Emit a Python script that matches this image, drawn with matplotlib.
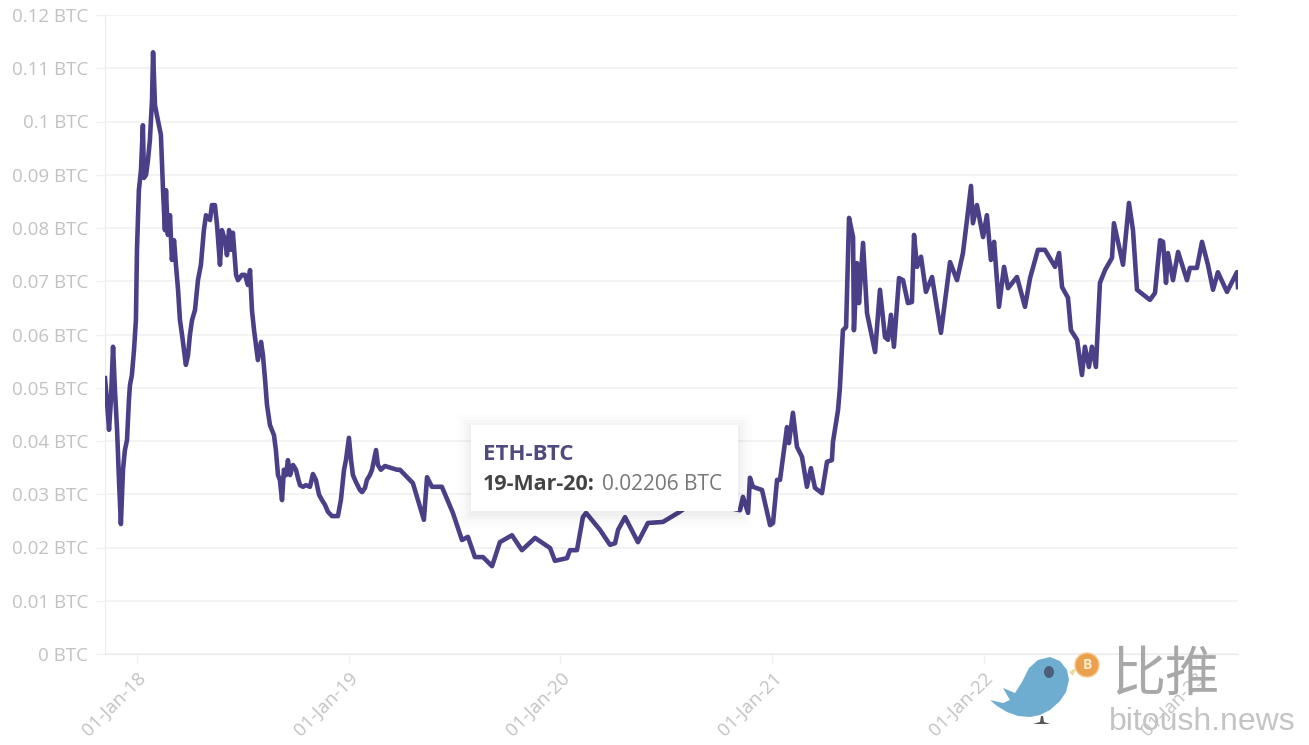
import matplotlib
matplotlib.use('Agg')
import matplotlib.pyplot as plt
from matplotlib.patches import Ellipse, Polygon, Rectangle

# years after 01-Jan-18
years = [-0.151, -0.142, -0.132, -0.123, -0.113, -0.104, -0.094, -0.085, -0.076, -0.066,
         -0.057, -0.047, -0.038, -0.033, -0.024, -0.014, -0.005, 0.0, 0.009, 0.019,
         0.028, 0.033, 0.043, 0.052, 0.061, 0.071, 0.076, 0.085, 0.094, 0.104,
         0.113, 0.123, 0.132, 0.137, 0.146, 0.156, 0.165, 0.175, 0.184, 0.194,
         0.203, 0.213, 0.222, 0.231, 0.241, 0.25, 0.26, 0.274, 0.288, 0.302,
         0.316, 0.326, 0.345, 0.354, 0.368, 0.378, 0.392, 0.401, 0.416, 0.425,
         0.435, 0.444, 0.453, 0.468, 0.477, 0.496, 0.51, 0.524, 0.534, 0.543,
         0.553, 0.562, 0.571, 0.586, 0.595, 0.605, 0.614, 0.628, 0.647, 0.656,
         0.666, 0.675, 0.685, 0.694, 0.704, 0.713, 0.723, 0.737, 0.751, 0.76,
         0.77, 0.784, 0.798, 0.817, 0.831, 0.845, 0.86, 0.874, 0.888, 0.902,
         0.921, 0.949, 0.963, 0.978, 0.987, 1.001, 1.011, 1.02, 1.034, 1.053,
         1.063, 1.077, 1.086, 1.1, 1.11, 1.129, 1.138, 1.152, 1.171, 1.204,
         1.228, 1.242, 1.303, 1.355, 1.37, 1.393, 1.44, 1.492, 1.535, 1.563,
         1.596, 1.634, 1.677, 1.714, 1.771, 1.818, 1.88, 1.951, 1.974, 2.031,
         2.045, 2.078, 2.106, 2.121, 2.187, 2.234, 2.258, 2.272, 2.305, 2.366,
         2.413, 2.484, 2.555, 2.612, 2.683, 2.753, 2.801, 2.848, 2.862, 2.886,
         2.895, 2.909, 2.952, 2.99, 3.004, 3.023, 3.037, 3.07, 3.079, 3.098,
         3.117, 3.141, 3.164, 3.183, 3.202, 3.235, 3.259, 3.282, 3.287, 3.311,
         3.32, 3.334, 3.349, 3.363, 3.382, 3.386, 3.401, 3.41, 3.429, 3.448,
         3.486, 3.509, 3.533, 3.547, 3.561, 3.575, 3.599, 3.618, 3.641, 3.66,
         3.67, 3.684, 3.703, 3.726, 3.755, 3.797, 3.84, 3.873, 3.901, 3.92,
         3.939, 3.948, 3.967, 3.996, 4.014, 4.033, 4.048, 4.071, 4.095, 4.114,
         4.156, 4.194, 4.218, 4.255, 4.288, 4.336, 4.355, 4.369, 4.397, 4.411,
         4.44, 4.463, 4.477, 4.496, 4.51, 4.529, 4.548, 4.572, 4.605, 4.614,
         4.657, 4.685, 4.704, 4.723, 4.784, 4.808, 4.832, 4.846, 4.86, 4.869,
         4.893, 4.917, 4.959, 4.973, 5.006, 5.03, 5.058, 5.082, 5.105, 5.148,
         5.195, 5.2]

eth_btc = [0.0518, 0.0477, 0.0421, 0.0477, 0.0577, 0.0496, 0.0421, 0.0327, 0.0244, 0.0346,
           0.0383, 0.0402, 0.0477, 0.0505, 0.0524, 0.0571, 0.0627, 0.0759, 0.0871, 0.0909,
           0.0993, 0.0894, 0.09, 0.0928, 0.0965, 0.104, 0.113, 0.1031, 0.1012, 0.0993,
           0.0975, 0.0871, 0.0796, 0.0871, 0.0787, 0.0824, 0.074, 0.0777, 0.0731, 0.0684,
           0.0627, 0.0599, 0.0571, 0.0543, 0.0561, 0.0599, 0.0627, 0.0646, 0.0702, 0.0731,
           0.0796, 0.0824, 0.0815, 0.0843, 0.0843, 0.0806, 0.0731, 0.0796, 0.0777, 0.0749,
           0.0796, 0.0759, 0.0791, 0.0712, 0.0702, 0.0712, 0.0712, 0.0693, 0.0721, 0.0646,
           0.0608, 0.058, 0.0552, 0.0586, 0.0561, 0.0515, 0.0468, 0.043, 0.0411, 0.0383,
           0.0336, 0.0327, 0.0289, 0.0346, 0.0336, 0.0364, 0.0336, 0.0355, 0.0346, 0.0331,
           0.0317, 0.0314, 0.0317, 0.0314, 0.0338, 0.0327, 0.0299, 0.0289, 0.028, 0.0267,
           0.0259, 0.0259, 0.0289, 0.0346, 0.0364, 0.0406, 0.0364, 0.0336, 0.0323, 0.0308,
           0.0304, 0.0312, 0.0327, 0.0336, 0.0346, 0.0383, 0.0355, 0.0346, 0.0353, 0.0349,
           0.0346, 0.0346, 0.0321, 0.0252, 0.0332, 0.0314, 0.0314, 0.0265, 0.0214, 0.022,
           0.0182, 0.0182, 0.0165, 0.021, 0.0223, 0.0195, 0.0218, 0.0199, 0.0175, 0.018,
           0.0195, 0.0195, 0.0257, 0.0265, 0.0233, 0.0205, 0.0208, 0.0233, 0.0257, 0.021,
           0.0246, 0.0248, 0.0265, 0.028, 0.0293, 0.0284, 0.0274, 0.027, 0.0295, 0.0265,
           0.0331, 0.0314, 0.0308, 0.0242, 0.0246, 0.0327, 0.0327, 0.0426, 0.0396, 0.0453,
           0.0389, 0.037, 0.0314, 0.0349, 0.0312, 0.0302, 0.0361, 0.0364, 0.0398, 0.0458,
           0.0501, 0.0608, 0.0614, 0.0819, 0.0783, 0.0608, 0.0734, 0.0659, 0.0772, 0.064,
           0.0567, 0.0684, 0.0595, 0.059, 0.0637, 0.0577, 0.0706, 0.0702, 0.0659, 0.0661,
           0.0787, 0.0727, 0.0746, 0.068, 0.0708, 0.0603, 0.0736, 0.0702, 0.0753, 0.0815,
           0.0879, 0.0809, 0.0843, 0.0783, 0.0824, 0.074, 0.0774, 0.0652, 0.0727, 0.0687,
           0.0708, 0.0652, 0.0706, 0.0759, 0.0759, 0.0727, 0.0753, 0.0689, 0.0669, 0.0608,
           0.059, 0.0524, 0.0577, 0.0539, 0.0577, 0.0539, 0.0697, 0.0721, 0.0744, 0.0809,
           0.0731, 0.0847, 0.0796, 0.0684, 0.0665, 0.0678, 0.0777, 0.0774, 0.0697, 0.0753,
           0.0702, 0.0755, 0.0702, 0.0725, 0.0725, 0.0774, 0.0731, 0.0684, 0.0717, 0.068,
           0.0717, 0.0689]

y_ticks = [0, 0.01, 0.02, 0.03, 0.04, 0.05, 0.06, 0.07, 0.08, 0.09, 0.1, 0.11, 0.12]
y_labels = ['0 BTC', '0.01 BTC', '0.02 BTC', '0.03 BTC', '0.04 BTC', '0.05 BTC', '0.06 BTC',
            '0.07 BTC', '0.08 BTC', '0.09 BTC', '0.1 BTC', '0.11 BTC', '0.12 BTC']
x_ticks = [0, 1, 2, 3, 4, 5]
x_labels = ['01-Jan-18', '01-Jan-19', '01-Jan-20', '01-Jan-21', '01-Jan-22', '01-Jan-23']

W, H = 1309, 745
LINE = '#4b3f87'
GRID = '#f1f1f1'
LABEL = '#c2c2c2'

plt.rcParams['font.family'] = ['Open Sans', 'DejaVu Sans']

fig = plt.figure(figsize=(W / 100, H / 100), dpi=100)
ax = fig.add_axes([105 / W, 1 - 654 / H, (1238 - 105) / W, (654 - 15) / H])
ax.plot(years, eth_btc, color=LINE, lw=3.3, solid_joinstyle='round', zorder=3)
ax.set_xlim(-0.151, 5.2)
ax.set_ylim(0, 0.12)

ax.set_yticks(y_ticks)
ax.set_yticklabels(y_labels)
ax.set_xticks(x_ticks)
ax.set_xticklabels(x_labels, rotation=45, ha='right', rotation_mode='anchor')
ax.grid(axis='y', color=GRID, lw=1.2, zorder=0)
ax.tick_params(axis='y', length=7, width=1, color=GRID, labelcolor=LABEL, labelsize=13.5, pad=5)
ax.tick_params(axis='x', length=7, width=1, color=GRID, labelcolor=LABEL, labelsize=13.5, pad=4)
for side in ['top', 'right']:
    ax.spines[side].set_visible(False)
for side in ['left', 'bottom']:
    ax.spines[side].set_color('#ececec')


def fx(px):
    return px / W


def fy(py):
    return 1 - py / H


def fig_poly(points, color, z):
    fig.add_artist(Polygon([(fx(x), fy(y)) for x, y in points], transform=fig.transFigure,
                           fc=color, ec='none', zorder=z))


# tooltip, soft shadow first then the white box
for grow, alpha in [(14, 0.006), (11, 0.008), (8, 0.011), (5, 0.014), (2, 0.018)]:
    fig.add_artist(Rectangle((fx(471 - grow), fy(511 + grow + 3)), (267 + 2 * grow) / W, (86 + 2 * grow) / H,
                             transform=fig.transFigure, fc='black', ec='none', alpha=alpha, zorder=5))
fig.add_artist(Rectangle((fx(471), fy(511)), 267 / W, 86 / H, transform=fig.transFigure,
                         fc='white', ec='none', zorder=6))
fig.text(fx(483), fy(454), 'ETH-BTC', color='#4f4a80', fontsize=16, fontweight='bold',
         va='center', zorder=7)
fig.text(fx(483), fy(485), '19-Mar-20:', color='#444444', fontsize=15.5, fontweight='bold',
         va='center', zorder=7)
fig.text(fx(602), fy(485), '0.02206 BTC', color='#777777', fontsize=15, va='center', zorder=7)

# watermark
bird = [(990, 700), (1003, 703), (1010, 700), (1003, 688), (1015, 693), (1022, 682), (1029, 668),
        (1038, 660), (1050, 657), (1060, 661), (1067, 670), (1069, 680), (1066, 692), (1060, 701),
        (1050, 710), (1040, 715), (1030, 717), (1018, 716), (1007, 712), (997, 706)]
fig_poly(bird, '#6fadd0', 8)
fig_poly([(1041, 716), (1043, 716), (1044, 722), (1050, 724), (1033, 724), (1040, 722)], '#555555', 8)
fig_poly([(1069, 672), (1076, 668), (1073, 676)], '#e8dc9a', 8)
fig.add_artist(Ellipse((fx(1049), fy(672)), 10 / W, 12 / H, transform=fig.transFigure,
                       fc='#4d5f78', ec='none', zorder=9))
fig.add_artist(Ellipse((fx(1087), fy(665)), 24 / W, 24 / H, transform=fig.transFigure,
                       fc='#eba04e', ec='#f5c98f', lw=1, zorder=9))
fig.text(fx(1087), fy(665), 'B', color='#fdeccf', fontsize=10, fontweight='bold', ha='center',
         va='center', zorder=10)
fig.text(fx(1111), fy(675), '比推', color='#a8a8a8', fontsize=39, va='center',
         family=['Noto Sans CJK SC', 'DejaVu Sans'], zorder=8)
fig.text(fx(1109), fy(722), 'bitoush.news', color='#c4c4c4', fontsize=23, va='center',
         family=['Liberation Sans'], zorder=8)

fig.savefig('out.png', dpi=100)
